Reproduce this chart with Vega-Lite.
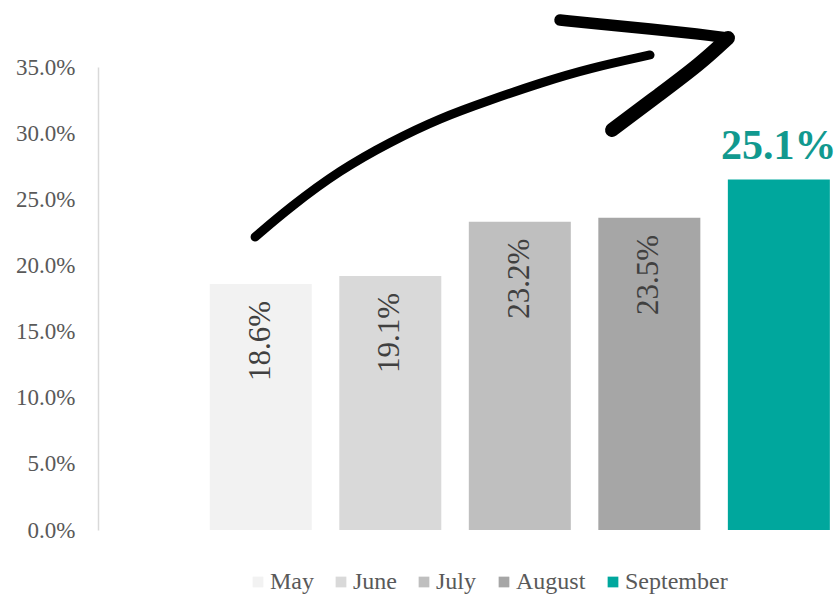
{
  "$schema": "https://vega.github.io/schema/vega-lite/v6.json",
  "width": 739,
  "height": 463,
  "autosize": {"type": "none"},
  "padding": {"left": 98, "top": 67, "right": 0, "bottom": 65},
  "background": "white",
  "config": {
    "font": "Liberation Serif",
    "view": {"stroke": null}
  },
  "datasets": {
    "months": [
      {"month": "May", "share": 0.186, "label": "18.6%"},
      {"month": "June", "share": 0.192, "label": "19.1%"},
      {"month": "July", "share": 0.233, "label": "23.2%"},
      {"month": "August", "share": 0.236, "label": "23.5%"},
      {"month": "September", "share": 0.265, "label": "25.1%"}
    ],
    "arrow": [
      {"part": "shaft", "i": 1, "pos": 0.954, "share": 0.2215},
      {"part": "shaft", "i": 2, "pos": 1.224, "share": 0.2441},
      {"part": "shaft", "i": 3, "pos": 1.61, "share": 0.2721},
      {"part": "shaft", "i": 4, "pos": 1.996, "share": 0.2933},
      {"part": "shaft", "i": 5, "pos": 2.382, "share": 0.3114},
      {"part": "shaft", "i": 6, "pos": 2.768, "share": 0.325},
      {"part": "shaft", "i": 7, "pos": 3.154, "share": 0.3379},
      {"part": "shaft", "i": 8, "pos": 3.541, "share": 0.3492},
      {"part": "shaft", "i": 9, "pos": 4.004, "share": 0.3591},
      {"part": "head top", "i": 1, "pos": 3.309, "share": 0.3855},
      {"part": "head top", "i": 2, "pos": 3.618, "share": 0.3825},
      {"part": "head top", "i": 3, "pos": 4.004, "share": 0.3787},
      {"part": "head top", "i": 4, "pos": 4.39, "share": 0.3749},
      {"part": "head top", "i": 5, "pos": 4.606, "share": 0.3719},
      {"part": "head leg", "i": 1, "pos": 4.606, "share": 0.3719},
      {"part": "head leg", "i": 2, "pos": 4.39, "share": 0.3523},
      {"part": "head leg", "i": 3, "pos": 4.081, "share": 0.3296},
      {"part": "head leg", "i": 4, "pos": 3.711, "share": 0.3024}
    ]
  },
  "layer": [
    {
      "data": {"name": "months"},
      "layer": [
        {
          "mark": {"type": "bar"},
          "encoding": {
            "x": {
              "field": "month", "type": "nominal", "sort": null,
              "scale": {"domain": ["May", "June", "July", "August", "September"], "paddingInner": 0.2124, "paddingOuter": 0.459, "align": 0.94},
              "axis": null
            },
            "y": {
              "field": "share", "type": "quantitative",
              "scale": {"domain": [0, 0.35], "nice": false},
              "axis": {
                "values": [0, 0.05, 0.1, 0.15, 0.2, 0.25, 0.3, 0.35],
                "format": ".1%",
                "title": null,
                "grid": false,
                "ticks": false,
                "domainColor": "#d9d9d9",
                "domainWidth": 1.5,
                "labelFontSize": 23,
                "labelColor": "#595959",
                "labelPadding": 23,
                "labelFont": "Liberation Serif"
              }
            },
            "color": {
              "field": "month", "type": "nominal",
              "scale": {"domain": ["May", "June", "July", "August", "September"], "range": ["#f2f2f2", "#d9d9d9", "#bfbfbf", "#a6a6a6", "#00a79d"]},
              "legend": {
                "title": null,
                "orient": "none",
                "direction": "horizontal",
                "legendX": 148,
                "legendY": 503,
                "symbolType": "square",
                "symbolSize": 115,
                "symbolStrokeWidth": 0,
                "labelFontSize": 24,
                "labelColor": "#595959",
                "labelFont": "Liberation Serif",
                "labelOffset": 0,
                "columnPadding": 15
              }
            }
          }
        },
        {
          "transform": [{"filter": "datum.month !== 'September'"}],
          "mark": {"type": "text", "angle": 270, "align": "right", "baseline": "middle", "dx": -17, "fontSize": 31, "color": "#404040", "font": "Liberation Serif"},
          "encoding": {
            "x": {"field": "month", "type": "nominal", "sort": null, "scale": {"domain": ["May", "June", "July", "August", "September"], "paddingInner": 0.2124, "paddingOuter": 0.459, "align": 0.94}},
            "y": {"field": "share", "type": "quantitative"},
            "text": {"field": "label"}
          }
        },
        {
          "transform": [{"filter": "datum.month === 'September'"}],
          "mark": {"type": "text", "align": "center", "baseline": "alphabetic", "dy": -20, "fontSize": 42, "fontWeight": "bold", "color": "#11998f", "font": "Liberation Serif"},
          "encoding": {
            "x": {"field": "month", "type": "nominal", "sort": null, "scale": {"domain": ["May", "June", "July", "August", "September"], "paddingInner": 0.2124, "paddingOuter": 0.459, "align": 0.94}},
            "y": {"field": "share", "type": "quantitative"},
            "text": {"field": "label"}
          }
        }
      ]
    },
    {
      "data": {"name": "arrow"},
      "mark": {"type": "line", "color": "#000000", "strokeCap": "round", "strokeJoin": "round", "interpolate": "basis", "clip": false},
      "encoding": {
        "x": {"field": "pos", "type": "quantitative", "scale": {"domain": [-0.259, 5.448], "nice": false, "zero": false}, "axis": null},
        "y": {"field": "share", "type": "quantitative", "scale": {"domain": [0, 0.35], "nice": false}},
        "detail": {"field": "part", "type": "nominal"},
        "strokeWidth": {"field": "part", "type": "nominal", "scale": {"domain": ["shaft", "head top", "head leg"], "range": [9, 14, 6]}, "legend": null},
        "order": {"field": "i", "type": "quantitative"}
      }
    }
  ],
  "resolve": {"scale": {"x": "independent"}, "axis": {"x": "independent"}}
}
